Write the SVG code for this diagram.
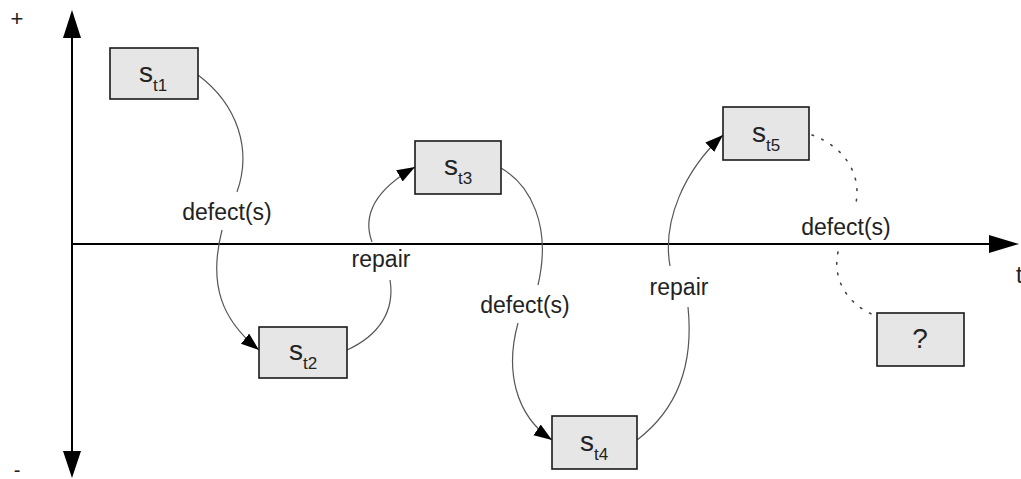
<svg xmlns="http://www.w3.org/2000/svg" width="1021" height="479" viewBox="0 0 1021 479">
<style>
.box{fill:#e6e6e6;stroke:#1a1a1a;stroke-width:1.6}
.lbl{font-family:"Liberation Sans",Arial,sans-serif;font-size:23px;fill:#222;text-anchor:middle}
.st{font-family:"Liberation Sans",Arial,sans-serif;font-size:28px;fill:#222;text-anchor:middle}
.sub{font-size:17px}
.curve{fill:none;stroke:#555;stroke-width:1.2}
.dot{fill:none;stroke:#444;stroke-width:1.6;stroke-dasharray:1.6 9;stroke-linecap:round}
.axis{stroke:#000;stroke-width:2;fill:none}
.head{fill:#000}
</style>
<defs>
<marker id="arr" markerUnits="userSpaceOnUse" markerWidth="20" markerHeight="14" refX="18" refY="6.5" orient="auto">
<path d="M0,0 L18,6.5 L0,13 z" fill="#000"/>
</marker>
</defs>
<g id="axes">
<line class="axis" x1="72" y1="36" x2="72" y2="453"/>
<line class="axis" x1="72" y1="244" x2="991" y2="244"/>
<path class="head" d="M72,10 L63,38 L81,38 z"/>
<path class="head" d="M72,478 L63,451 L81,451 z"/>
<path class="head" d="M1019,244 L989,235 L989,253 z"/>
<text class="lbl" x="17" y="26" style="font-size:22px">+</text>
<text class="lbl" x="17" y="477" style="font-size:20px">-</text>
<text class="lbl" x="1016" y="283" style="text-anchor:start">t</text>
</g>
<g id="connectors">
<path class="curve" d="M198,75 C238,105 252,150 237,192"/>
<path class="curve" d="M222,230 C208,285 222,320 259,350" marker-end="url(#arr)"/>
<text class="lbl" x="227" y="220">defect(s)</text>
<path class="curve" d="M347,350 C380,335 395,310 390,280"/>
<path class="curve" d="M372,242 C362,215 375,190 415,167" marker-end="url(#arr)"/>
<text class="lbl" x="381" y="267">repair</text>
<path class="curve" d="M501,168 C530,185 552,225 538,285"/>
<path class="curve" d="M518,323 C505,370 515,415 552,440" marker-end="url(#arr)"/>
<text class="lbl" x="525" y="313">defect(s)</text>
<path class="curve" d="M637,440 C670,415 695,375 688,307"/>
<path class="curve" d="M670,266 C662,220 685,170 723,135" marker-end="url(#arr)"/>
<text class="lbl" x="679" y="295">repair</text>
<path class="dot" d="M812,135 C840,145 862,170 856,203"/>
<path class="dot" d="M838,252 C832,280 848,305 876,316"/>
<text class="lbl" x="846" y="235">defect(s)</text>
</g>
<g id="st1">
<rect class="box" x="110" y="48" width="88" height="51"/>
<text class="st" x="153" y="82">s<tspan class="sub" dy="9">t1</tspan></text>
</g>
<g id="st2">
<rect class="box" x="259" y="327" width="88" height="51"/>
<text class="st" x="303" y="360">s<tspan class="sub" dy="9">t2</tspan></text>
</g>
<g id="st3">
<rect class="box" x="415" y="141" width="86" height="53"/>
<text class="st" x="458" y="175">s<tspan class="sub" dy="9">t3</tspan></text>
</g>
<g id="st4">
<rect class="box" x="552" y="416" width="85" height="53"/>
<text class="st" x="594" y="451">s<tspan class="sub" dy="9">t4</tspan></text>
</g>
<g id="st5">
<rect class="box" x="723" y="107" width="86" height="53"/>
<text class="st" x="766" y="142">s<tspan class="sub" dy="9">t5</tspan></text>
</g>
<g id="unknown">
<rect class="box" x="877" y="313" width="87" height="53"/>
<text class="st" x="920" y="348">?</text>
</g>
</svg>
